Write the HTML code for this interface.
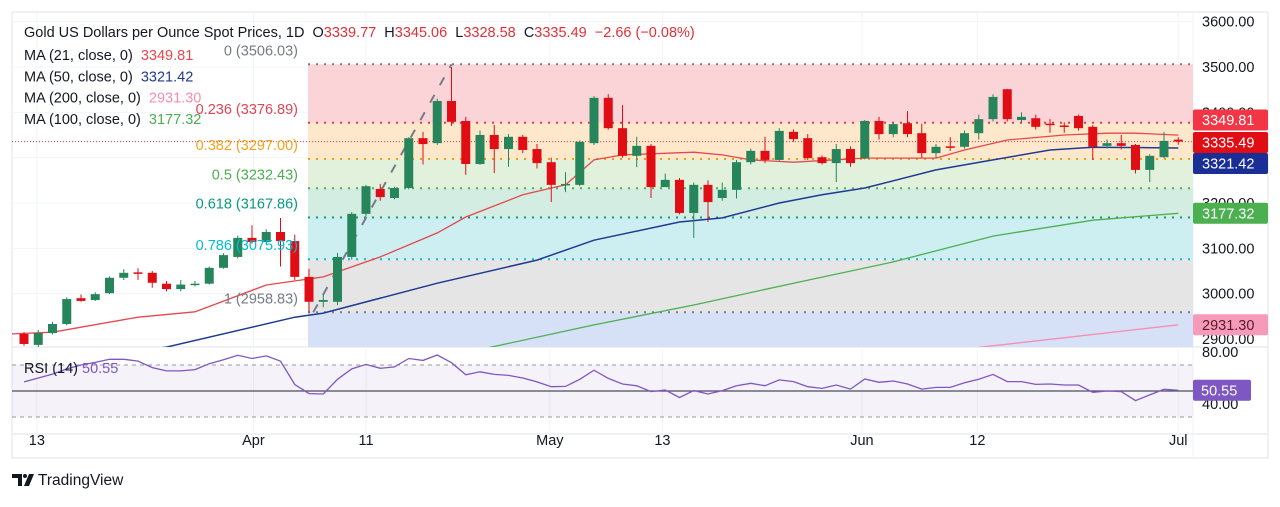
<!DOCTYPE html>
<html><head><meta charset="utf-8"><style>
body{margin:0;background:#fff;width:1280px;height:502px;overflow:hidden;font-family:"Liberation Sans",sans-serif}
svg text{font-family:"Liberation Sans",sans-serif}
</style></head><body>
<svg id="c" width="1280" height="502" xmlns="http://www.w3.org/2000/svg"></svg>
<script>
const opens=[2911,2887,2913,2933,2990,2986,3001,3035,3047,3046,3022,3010,3021,3022,3057,3081,3123,3114,3136,3116,3037,2982,2982,3081,3176,3231,3211,3233,3343,3332,3425,3381,3286,3350,3319,3346,3319,3290,3240,3240,3332,3432,3365,3304,3326,3235,3251,3178,3240,3211,3229,3290,3315,3295,3357,3343,3301,3288,3319,3299,3381,3352,3376,3354,3310,3325,3324,3354,3385,3451,3383,3387,3375,3371,3392,3368,3326,3332,3328,3273,3301,3339.77];
const highs=[2915,2920,2938,2992,2998,3003,3038,3054,3056,3050,3028,3030,3028,3060,3089,3128,3151,3142,3167,3130,3055,2998,3090,3180,3240,3242,3236,3345,3357,3430,3500,3390,3360,3372,3352,3350,3330,3300,3268,3338,3436,3440,3416,3346,3330,3265,3255,3245,3250,3245,3295,3320,3346,3365,3362,3352,3305,3330,3325,3383,3390,3378,3403,3375,3330,3345,3360,3395,3440,3452,3400,3395,3385,3378,3395,3372,3340,3350,3330,3308,3357,3345.06];
const lows=[2885,2880,2910,2930,2982,2984,2999,3030,3030,3013,3005,3005,3016,3020,3055,3078,3110,3110,3060,3030,2958,2970,2975,3075,3170,3205,3208,3230,3285,3328,3370,3262,3284,3266,3280,3310,3276,3202,3224,3237,3328,3362,3300,3279,3211,3240,3175,3123,3158,3205,3210,3285,3288,3293,3335,3295,3285,3246,3280,3296,3340,3345,3345,3300,3300,3315,3320,3340,3380,3380,3375,3362,3355,3355,3360,3295,3320,3318,3265,3246,3299,3328.58];
const closes=[2889,2913,2933,2988,2984,2999,3035,3046,3044,3024,3010,3020,3022,3057,3085,3123,3114,3136,3116,3037,2982,2986,3081,3176,3237,3213,3233,3343,3330,3425,3379,3286,3350,3319,3346,3317,3288,3240,3242,3335,3432,3365,3304,3326,3235,3251,3178,3240,3202,3229,3290,3315,3295,3359,3341,3299,3288,3319,3288,3381,3352,3374,3352,3310,3324,3324,3354,3385,3434,3385,3390,3368,3373,3369,3365,3324,3332,3326,3273,3304,3337,3335.49];
const rsi=[57,60,63,67,70,72,74.4,74.4,73,68,65.5,65.5,66.5,71,74,77.5,75,77,73,55,48,47.7,59,67,70.5,67.5,68.5,75,73.5,77.7,71.8,62.5,64.8,62.8,62,60,57,53.3,53.5,59,66,59.7,55.4,54,49.5,50.8,45,50.3,47.7,50.3,54.1,55.9,54.1,58.5,57.2,53.3,52,54.6,51.5,59.2,56.7,57.7,55.4,51.5,52.8,52.8,56.4,59,62.8,57.2,57.2,55.1,55.4,54.6,54.6,49,50,49.5,42.6,47,51.3,50.55];
const ma21Idx=[-1,2,8,12,17,21,25,29,31,35,37,38,40,42,47,49,51,54,59,64,66,69,73,76,78,81];
const ma21Val=[2911,2915,2948,2960,3019,3037,3081,3134,3169,3218,3233,3240,3295,3306,3312,3306,3295,3290,3299,3299,3317,3339,3350,3354,3354,3349.81];
const ma50Idx=[0,10,19,21,29,36,40,46,49,53,56,59,64,68,72,75,81];
const ma50Val=[2840,2882,2948,2957,3023,3074,3118,3158,3167,3200,3218,3233,3273,3295,3317,3323,3321.42];
const ma100Idx=[31,40,47,54,61,68,75,81];
const ma100Val=[2870,2931,2975,3023,3070,3127,3162,3177.32];
const ma200Idx=[66,81];
const ma200Val=[2878,2931.3];
const fibLevels=["0","0.236","0.382","0.5","0.618","0.786","1"];
const fibPrices=[3506.03,3376.89,3297.00,3232.43,3167.86,3075.93,2958.83];
const priceTicks=[3600,3500,3400,3300,3200,3100,3000,2900];
const xLabels=["13","Apr","11","May","13","Jun","12","Jul"];
const xLabelIdx=[0.9,16.1,24,36.9,44.8,58.8,66.9,81];

const S=document.getElementById('c'),NS='http://www.w3.org/2000/svg';
const L=12,R=1193,T=12,B=347,RT=349,RB=434;
const FS=14.5;
const yP=p=>67+(3500-p)*0.4533;
const xI=i=>24+i*14.25;
const yR=v=>391-(v-50)*1.3;
function el(tag,at,parent){const e=document.createElementNS(NS,tag);for(const k in at)e.setAttribute(k,at[k]);(parent||S).appendChild(e);return e;}
function txt(s,x,y,at,parent){const e=el('text',Object.assign({x:x,y:y,'font-size':FS,fill:'#131722'},at),parent);e.textContent=s;return e;}

const defs=el('defs',{});
const cp=el('clipPath',{id:'mc'},defs);el('rect',{x:L,y:T,width:R-L,height:B-T},cp);

const frame=el('rect',{x:L,y:T,width:1268-L,height:458-T,fill:'none',stroke:'#e0e3eb'});

el('line',{x1:L,y1:B,x2:1268,y2:B,stroke:'#e0e3eb'});
el('line',{x1:L,y1:RB,x2:1268,y2:RB,stroke:'#e0e3eb'});
el('line',{x1:R,y1:T,x2:R,y2:458,stroke:'#f0f3fa'});

const g=el('g',{'clip-path':'url(#mc)'});

priceTicks.forEach(p=>el('line',{x1:L,y1:yP(p),x2:R,y2:yP(p),stroke:'#f2f4f8'},g));
xLabelIdx.forEach(i=>{el('line',{x1:xI(i),y1:T,x2:xI(i),y2:B,stroke:'#f2f4f8'},g);el('line',{x1:xI(i),y1:RT,x2:xI(i),y2:RB,stroke:'#f2f4f8'});});

const bandCols=['#fad4d7','#fde8cc','#e2f1dc','#d3ede2','#cdeff2','#e5e5e6','#d6e1f7'];
const lineCols=['#787b86','#f23645','#ff9800','#4caf50','#089981','#00bcd4','#787b86'];
const labCols=['#787b86','#e04555','#f7a21b','#4caf50','#089981','#00bcd4','#787b86'];
const fx=308;
fibPrices.forEach((p,k)=>{
  const y1=yP(p), y2=k<fibPrices.length-1?yP(fibPrices[k+1]):B;
  const b=el('rect',{x:fx,y:y1,width:R-fx,height:y2-y1,fill:bandCols[k]},g);
  
});
fibPrices.forEach((p,k)=>{
  const ln=el('line',{x1:fx,y1:yP(p),x2:R,y2:yP(p),stroke:lineCols[k],'stroke-width':2,'stroke-dasharray':'2,6'},g);
  
  const t=txt(fibLevels[k]+' ('+p.toFixed(2)+')',298,yP(p)-9,{'text-anchor':'end',fill:labCols[k]});
  
});
const zz=el('line',{x1:xI(20.3),y1:yP(fibPrices[6]),x2:xI(30),y2:yP(fibPrices[0]),stroke:'#787b86','stroke-width':2,'stroke-dasharray':'9,11'},g);


const pl=el('line',{x1:L,y1:yP(closes[closes.length-1]),x2:R,y2:yP(closes[closes.length-1]),stroke:'#f23645','stroke-dasharray':'1,2'},g);


function ma(idx,val,col,name,w){const pts=idx.map((i,k)=>xI(i).toFixed(1)+','+yP(val[k]).toFixed(1)).join(' ');
  const p=el('polyline',{points:pts,fill:'none',stroke:col,'stroke-width':w||1.3},g);}
ma(ma200Idx,ma200Val,'#f48fb1','ma200-line');
ma(ma100Idx,ma100Val,'#4caf50','ma100-line');
ma(ma50Idx,ma50Val,'#1f3a93','ma50-line',1.5);
ma(ma21Idx,ma21Val,'#e5484d','ma21-line');

closes.forEach((c,i)=>{
  const o=opens[i],up=c>=o,col=up?'#26855a':'#e00d15';
  const x=xI(i);
  const cg=el('g',{},g);
  
  el('line',{x1:x,y1:yP(highs[i]),x2:x,y2:yP(lows[i]),stroke:col,'stroke-width':1},cg);
  const top=yP(Math.max(o,c)),h=Math.max(1.5,Math.abs(yP(o)-yP(c)));
  el('rect',{x:x-4.5,y:top,width:9,height:h,fill:col},cg);
});

const hd=el('text',{x:24,y:37,'font-size':FS,fill:'#131722',style:'white-space:pre'});

[['Gold US Dollars per Ounce Spot Prices, 1D  ','#131722'],['O','#131722'],['3339.77  ','#e0303a'],['H','#131722'],['3345.06  ','#e0303a'],['L','#131722'],['3328.58  ','#e0303a'],['C','#131722'],['3335.49  ','#e0303a'],['\u22122.66 (\u22120.08%)','#e0303a']].forEach(([s,c])=>{const t=el('tspan',{fill:c},hd);t.textContent=s;});
const legs=[['MA (21, close, 0)','3349.81','#e5484d'],['MA (50, close, 0)','3321.42','#1f3a93'],['MA (200, close, 0)','2931.30','#f48fb1'],['MA (100, close, 0)','3177.32','#4caf50']];
legs.forEach((l,k)=>{const t=el('text',{x:24,y:60+k*21.3,'font-size':FS,fill:'#131722',style:'white-space:pre'});
  
  const a=el('tspan',{},t);a.textContent=l[0]+'  ';const b=el('tspan',{fill:l[2]},t);b.textContent=l[1];});

priceTicks.forEach(p=>{const t=txt(p.toFixed(2),1202,yP(p)+5,{});});
const badges=[['3349.81','#f23645',120,'#fff'],['3335.49','#e00d15',142.5,'#fff'],['3321.42','#1a2f96',163.5,'#fff'],['3177.32','#4caf50',yP(3177.32),'#fff'],['2931.30','#f59ab8',yP(2931.3),'#5a1a2a']];
badges.forEach(b=>{const bg=el('g',{});
  el('rect',{x:1193,y:b[2]-10.5,width:75,height:21,rx:2,fill:b[1]},bg);txt(b[0],1202,b[2]+5,{fill:b[3]},bg);});

const rg=el('g',{});
el('rect',{x:L,y:yR(70),width:R-L,height:yR(30)-yR(70),fill:'#7e57c2','fill-opacity':0.08},rg);
[70,30].forEach(v=>el('line',{x1:L,y1:yR(v),x2:R,y2:yR(v),stroke:'#9598a1','stroke-dasharray':'4,4'},rg));
el('line',{x1:L,y1:yR(50),x2:R,y2:yR(50),stroke:'#4a4e59','stroke-width':1.2},rg);
const rl=el('polyline',{points:rsi.map((v,i)=>xI(i).toFixed(1)+','+yR(v).toFixed(1)).join(' '),fill:'none',stroke:'#7e57c2','stroke-width':1.3},rg);

const rt=el('text',{x:24,y:373,'font-size':FS,fill:'#131722'});
const r1=el('tspan',{},rt);r1.textContent='RSI (14) ';const r2=el('tspan',{fill:'#7e57c2'},rt);r2.textContent='50.55';
[['80.00',yR(80)],['40.00',yR(40)]].forEach(([s,y])=>{const t=txt(s,1202,y+5,{});});
const rb=el('g',{});
el('rect',{x:1193,y:yR(50.55)-10.5,width:58,height:21,rx:2,fill:'#7e57c2'},rb);txt('50.55',1201,yR(50.55)+5,{fill:'#fff'},rb);

xLabels.forEach((s,k)=>{const t=txt(s,xI(xLabelIdx[k]),445,{'text-anchor':'middle'});});

const lg=el('g',{});
el('path',{d:'M12 474h10v12h-4v-8h-6z',fill:'#131722'},lg);
el('circle',{cx:25,cy:476,r:2,fill:'#131722'},lg);
el('path',{d:'M29 474h5l-5 12h-5z',fill:'#131722'},lg);
txt('TradingView',38,485,{'font-size':15.5},lg);
</script>
</body></html>
